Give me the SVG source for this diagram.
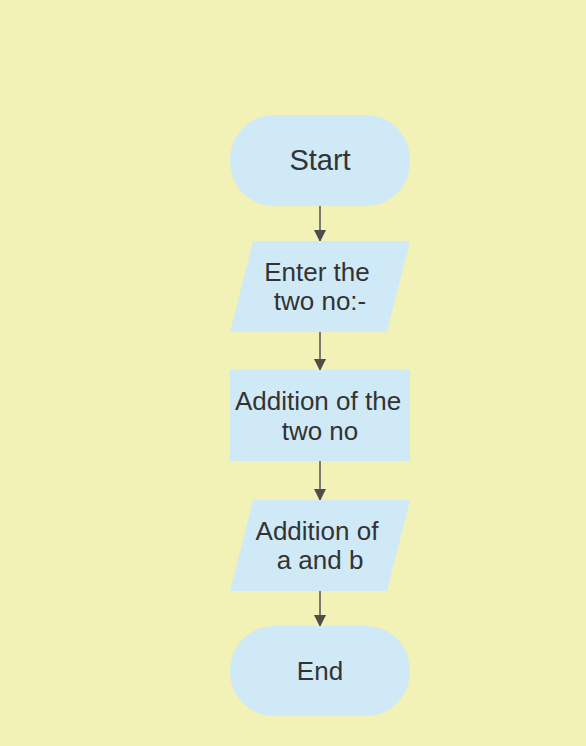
<svg xmlns="http://www.w3.org/2000/svg" width="586" height="746" viewBox="0 0 586 746">
<style>
.n{fill:#D0E9F6;stroke:none}
.t{font-family:"Liberation Sans",Arial,sans-serif;font-size:26px;fill:#333333;text-anchor:middle}
.c{stroke:#7A7A6E;stroke-width:2;fill:none;marker-end:url(#ah)}
</style>
<defs>
<marker id="ah" markerWidth="12" markerHeight="12" refX="11" refY="6" orient="auto" markerUnits="userSpaceOnUse">
<path d="M0,0 L12,6 L0,12 Z" fill="#4D4D4D"/>
</marker>
</defs>
<rect width="586" height="746" fill="#F2F2B6"/>
<g id="connectors">
<path class="c" d="M320,206 L320,241"/>
<path class="c" d="M320,332 L320,370"/>
<path class="c" d="M320,461 L320,500"/>
<path class="c" d="M320,591 L320,626"/>
</g>
<g id="start">
<rect class="n" x="230" y="115" width="180" height="91" rx="44" ry="44"/>
<text class="t" x="320" y="170" style="font-size:29px">Start</text>
</g>
<g id="input1">
<polygon class="n" points="253,241 410,241 387,332 230,332"/>
<text class="t" x="317" y="281">Enter the</text>
<text class="t" x="320" y="310">two no:-</text>
</g>
<g id="process">
<rect class="n" x="230" y="370" width="180" height="91"/>
<text class="t" x="318" y="410">Addition of the</text>
<text class="t" x="320" y="440">two no</text>
</g>
<g id="input2">
<polygon class="n" points="253,500 410,500 387,591 230,591"/>
<text class="t" x="317" y="540">Addition of</text>
<text class="t" x="320" y="569">a and b</text>
</g>
<g id="end">
<rect class="n" x="230" y="626" width="180" height="90" rx="44" ry="44"/>
<text class="t" x="320" y="680">End</text>
</g>
</svg>
